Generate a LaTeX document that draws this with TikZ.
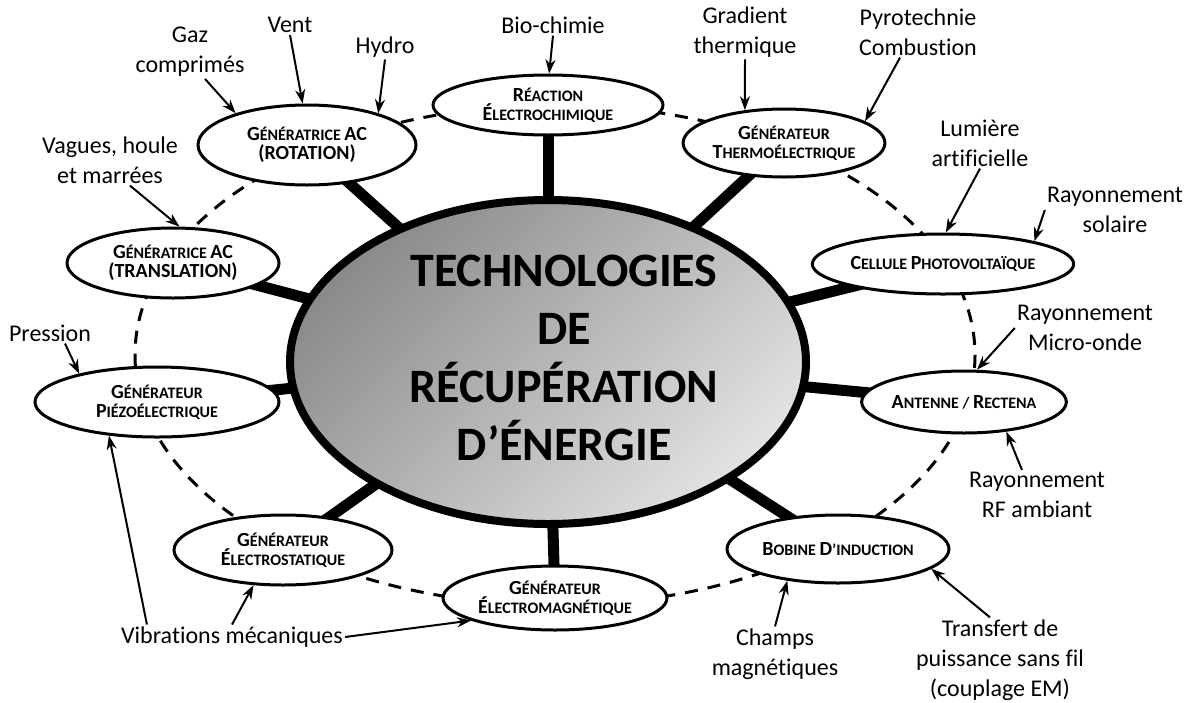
\documentclass[tikz,border=0pt]{standalone}
\usepackage{fontspec}
\setmainfont{Carlito}[Ligatures=NoCommon]
\usetikzlibrary{arrows.meta,shapes.geometric}
\definecolor{cdark}{HTML}{8A8A8A}
\definecolor{clight}{HTML}{E2E2E2}
\newcommand\Bg[1]{{\fontsize{20}{19}\selectfont #1}}
\pgfdeclarelayer{bg}
\pgfsetlayers{bg,main}
\begin{document}
\begin{tikzpicture}[x=1pt,y=-1pt,
  outer/.style={ellipse, draw, line width=3pt, fill=white, inner sep=0pt, align=center,
    font=\bfseries\fontsize{16}{19}\selectfont},
  lab/.style={font=\fontsize{24}{30}\selectfont, align=center, inner sep=2pt},
  arr/.style={-{Stealth[length=14pt,width=10pt]}, line width=2pt},
  spoke/.style={line width=11pt},
  ring/.style={line width=3pt, dash pattern=on 13pt off 10pt}]
\useasboundingbox (0,0) rectangle (1196,702);

% central
\node[ellipse, draw, line width=8pt, minimum width=516, minimum height=324,
  top color=cdark, bottom color=clight, shading angle=45] (c) at (548,362) {};
\node[font=\bfseries\fontsize{48}{58}\selectfont, align=center] (ct) at (564,358)
  {TECHNOLOGIES\\DE\\RÉCUPÉRATION\\D’ÉNERGIE};

% outer nodes
\node[outer, minimum width=218, minimum height=80] (rot) at (307,145) {\Bg{G}ÉNÉRATRICE \Bg{AC}\\\Bg{(ROTATION)}};
\node[outer, minimum width=230, minimum height=60] (react) at (548,105) {\Bg{R}ÉACTION\\\Bg{É}LECTROCHIMIQUE};
\node[outer, minimum width=192, minimum height=68] (thermo) at (784,143) {\Bg{G}ÉNÉRATEUR\\\Bg{T}HERMOÉLECTRIQUE};
\node[outer, minimum width=222, minimum height=60] (pv) at (943,264) {\Bg{C}ELLULE \Bg{P}HOTOVOLTAÏQUE};
\node[outer, minimum width=192, minimum height=62] (ant) at (964,402) {\Bg{A}NTENNE / \Bg{R}ECTENA};
\node[outer, minimum width=222, minimum height=68] (bob) at (838,549) {\Bg{B}OBINE \Bg{D}’INDUCTION};
\node[outer, minimum width=224, minimum height=64] (em) at (555,598) {\Bg{G}ÉNÉRATEUR\\\Bg{É}LECTROMAGNÉTIQUE};
\node[outer, minimum width=218, minimum height=70] (es) at (283,550) {\Bg{G}ÉNÉRATEUR\\\Bg{É}LECTROSTATIQUE};
\node[outer, minimum width=244, minimum height=70] (piezo) at (157,402) {\Bg{G}ÉNÉRATEUR\\\Bg{P}IÉZOÉLECTRIQUE};
\node[outer, minimum width=212, minimum height=70] (trans) at (173,263) {\Bg{G}ÉNÉRATRICE \Bg{AC}\\\Bg{(TRANSLATION)}};

\begin{pgfonlayer}{bg}
  \fill[white] (0,0) rectangle (1196,702);
  \draw[ring] (555,355) ellipse [x radius=420, y radius=250];
  \foreach \n in {rot,react,thermo,pv,ant,bob,em,es,piezo,trans}
    \draw[spoke] (c.center) -- (\n.center);
\end{pgfonlayer}

% labels
\node[lab] (gaz) at (190,52) {Gaz\\comprimés};
\node[lab] (vent) at (290,25) {Vent};
\node[lab] (hydro) at (385,47) {Hydro};
\node[lab] (bio) at (553,25) {Bio-chimie};
\node[lab] (grad) at (745,32) {Gradient\\thermique};
\node[lab] (pyro) at (918,32) {Pyrotechnie\\Combustion};
\node[lab] (lum) at (980,143) {Lumière\\artificielle};
\node[lab] (sol) at (1115,210) {Rayonnement\\solaire};
\node[lab] (micro) at (1085,328) {Rayonnement\\Micro-onde};
\node[lab] (rf) at (1037,495) {Rayonnement\\RF ambiant};
\node[lab] (transf) at (1000,660) {Transfert de\\puissance sans fil\\(couplage EM)};
\node[lab] (champs) at (775,654) {Champs\\magnétiques};
\node[lab] (vib) at (232,637) {Vibrations mécaniques};
\node[lab] (press) at (50,333) {Pression};
\node[lab] (vag) at (110,160) {Vagues, houle\\et marrées};

% arrows
\draw[arr] ([xshift=15pt]gaz.south) -- (rot.156);
\draw[arr] (vent.south) -- (rot.96);
\draw[arr] (hydro.south) -- (rot.24);
\draw[arr] (bio.south) -- (react.88);
\draw[arr] (grad.south) -- (thermo.140);
\draw[arr] ([xshift=-18pt]pyro.south) -- (thermo.15);
\draw[arr] (lum.south) -- (pv.85);
\draw[arr] (sol.west) -- (pv.14);
\draw[arr] (micro.west) -- (ant.68);
\draw[arr] ([xshift=-15pt]rf.north) -- (ant.-35);
\draw[arr] ([xshift=-10pt]transf.north) -- (bob.-12);
\draw[arr] (champs.north) -- (bob.-148);
\draw[arr] (vib.north) -- (es.-130);
\draw[arr] ([xshift=28pt]vib.north west) -- (piezo.-145);
\draw[arr] (vib.east) -- (em.-165);
\draw[arr] ([xshift=15pt]press.south) -- (piezo.160);
\draw[arr] ([xshift=20pt]vag.south) -- (trans.80);
\end{tikzpicture}
\end{document}
